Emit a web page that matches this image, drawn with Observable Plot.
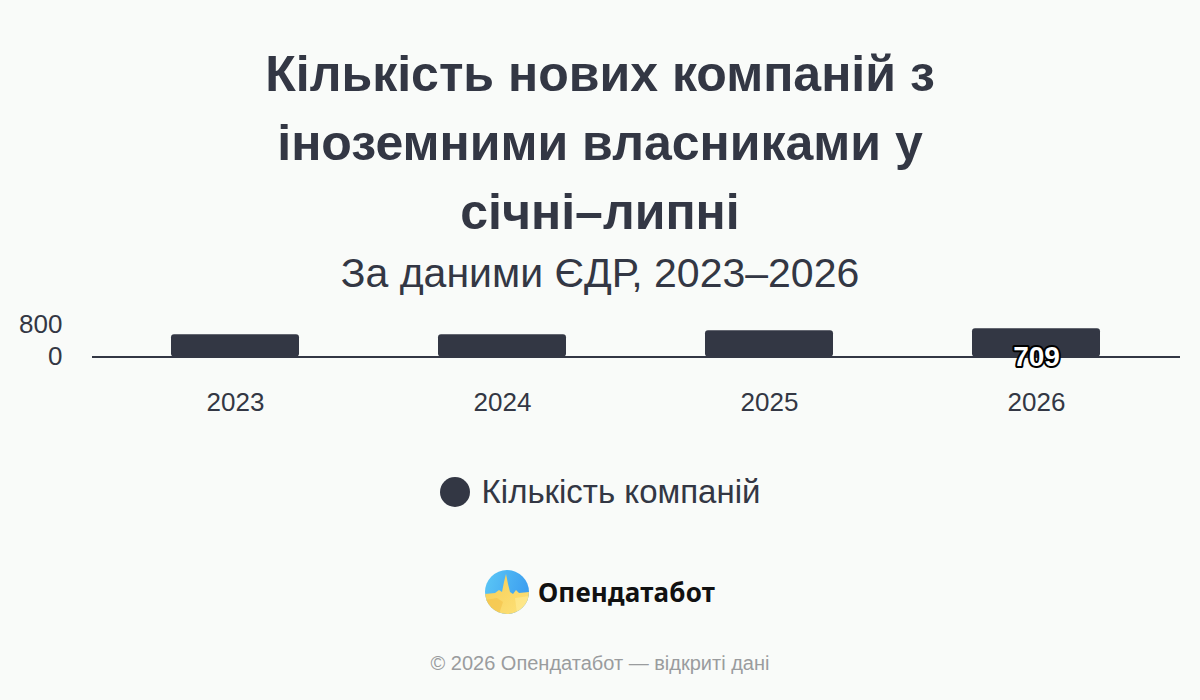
<!DOCTYPE html>
<html lang="uk">
<head>
<meta charset="utf-8">
<script src="https://cdn.jsdelivr.net/npm/d3@7"></script>
<script src="https://cdn.jsdelivr.net/npm/@observablehq/plot@0.6"></script>
<style>
  html, body { margin: 0; padding: 0; }
  body { width: 1200px; height: 700px; background: #f9fbf9; font-family: "Liberation Sans", Arial, sans-serif; color: #333744; position: relative; overflow: hidden; }
  .abs { position: absolute; left: 0; width: 1200px; text-align: center; }
  #title { top: 40px; font-size: 50px; font-weight: bold; line-height: 69px; }
  #subtitle { top: 249px; font-size: 41px; line-height: 48px; }
  #chart { top: 300px; }
  #legend { top: 472px; display: flex; justify-content: center; align-items: center; gap: 12px; font-size: 33px; line-height: 40px; }
  #legend .dot { width: 30px; height: 30px; border-radius: 50%; background: #333744; }
  #logo { top: 570px; display: flex; justify-content: center; align-items: center; gap: 9px; }
  #logo span { font-family: "Noto Sans", sans-serif; font-weight: bold; font-size: 26px; color: #111; letter-spacing: 0.2px; }
  #footer { top: 651px; font-size: 20px; color: #9a9c9e; line-height: 24px; }
</style>
</head>
<body>
<div id="title" class="abs">Кількість нових компаній з<br>іноземними власниками у<br>січні–липні</div>
<div id="subtitle" class="abs">За даними ЄДР, 2023–2026</div>
<div id="chart" class="abs"></div>
<div id="legend" class="abs"><div class="dot"></div><div>Кількість компаній</div></div>
<div id="logo" class="abs">
  <svg width="44" height="44" viewBox="0 0 44 44">
    <defs>
      <clipPath id="c"><circle cx="22" cy="22" r="22"/></clipPath>
      <linearGradient id="bl" x1="0" y1="0" x2="1" y2="0.3">
        <stop offset="0" stop-color="#5cc8f6"/><stop offset="1" stop-color="#3d9ff0"/>
      </linearGradient>
      <linearGradient id="ye" x1="0" y1="0" x2="1" y2="1">
        <stop offset="0" stop-color="#f7cd55"/><stop offset="1" stop-color="#fde27a"/>
      </linearGradient>
    </defs>
    <g clip-path="url(#c)">
      <rect width="44" height="44" fill="url(#bl)"/>
      <path d="M0 24 L10 23 L14 20 L17 22 L19 12 L21 4 L23 14 L25 22 L28 24 L31 20 L34 23 L44 22 L44 44 L0 44 Z" fill="url(#ye)"/>
      <path d="M0 30 L12 28 L18 32 L14 44 L0 44 Z" fill="#f3c24a" opacity="0.6"/>
      <path d="M30 28 L44 26 L44 44 L32 44 Z" fill="#fff0a0" opacity="0.5"/>
    </g>
  </svg>
  <span>Опендатабот</span>
</div>
<div id="footer" class="abs">© 2026 Опендатабот — відкриті дані</div>
<script>
const years = ["2023", "2024", "2025", "2026"];
const counts = [555, 555, 659, 709];
const yTicks = [0, 800];
const labelledYears = ["2026"];

const data = years.map((year, i) => ({year, count: counts[i]}));
const labelled = data.filter(d => labelledYears.includes(d.year));
const ink = "#333744";

const chart = Plot.plot({
  width: 1200,
  height: 130,
  marginTop: 24.5,
  marginBottom: 73.5,
  marginLeft: 92,
  marginRight: 20,
  style: {background: "transparent", fontSize: "26px", fontFamily: "'Liberation Sans', Arial, sans-serif", color: ink},
  x: {type: "band", domain: years, paddingInner: 0.52, paddingOuter: 0.29, label: null},
  y: {domain: [0, 800], label: null},
  marks: [
    Plot.barY(data, {x: "year", y: "count", fill: ink, rx: 3}),
    Plot.ruleY([0], {stroke: ink, strokeWidth: 2}),
    Plot.axisX({tickSize: 0, tickPadding: 36, fontSize: 26, fill: ink}),
    Plot.axisY({ticks: yTicks, tickSize: 0, tickPadding: 30, fontSize: 26, fill: ink, tickFormat: d3.format("d")}),
    Plot.text(labelled, {x: "year", y: () => 0, text: d => String(d.count), fill: "white", stroke: "black", strokeWidth: 4, paintOrder: "stroke", fontWeight: "bold", fontSize: 28})
  ]
});
document.getElementById("chart").appendChild(chart);
</script>
</body>
</html>
